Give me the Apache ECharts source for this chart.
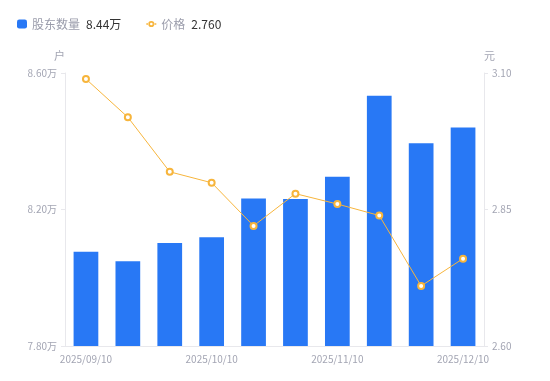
<!DOCTYPE html>
<html>
<head>
<meta charset="utf-8">
<script src="https://cdn.jsdelivr.net/npm/echarts@6/dist/echarts.min.js"></script>
<style>html,body{margin:0;padding:0;background:#fff;}#c{width:550px;height:381px;}</style>
</head>
<body>
<div id="c"></div>
<script>
const categories = ['2025/09/10','2025/09/19','2025/09/30','2025/10/10','2025/10/20','2025/10/31','2025/11/10','2025/11/20','2025/11/28','2025/12/10'];
const holders = [8.076, 8.048, 8.102, 8.119, 8.232, 8.231, 8.296, 8.533, 8.394, 8.440]; // 万户
const prices = [3.089, 3.019, 2.919, 2.899, 2.820, 2.879, 2.860, 2.839, 2.710, 2.760]; // 元
const leftTicks = [7.8, 8.2, 8.6];
const rightTicks = [2.60, 2.85, 3.10];

const labelColor = '#a3a5b3';
const lineColor = '#e8e8ec';
const orange = '#f7b53c';
const chart = echarts.init(document.getElementById('c'));
const lastHolder = holders[holders.length - 1].toFixed(2) + '万';
const lastPrice = prices[prices.length - 1].toFixed(3);
const lineIcon = 'path://M0,0L0.01,0L0.01,0.01Z M10,9L9.99,9L9.99,8.99Z M0,3.8L2.4,3.8L2.4,5.2L0,5.2Z M7.6,3.8L10,3.8L10,5.2L7.6,5.2Z M8.1,4.5A3.1,3.1 0 1 0 1.9,4.5A3.1,3.1 0 1 0 8.1,4.5Z M6.3,4.5A1.3,1.3 0 1 1 3.7,4.5A1.3,1.3 0 1 1 6.3,4.5Z';

chart.setOption({
  animation: false,
  textStyle: { fontFamily: 'Noto Sans CJK SC, Noto Sans, sans-serif' },
  legend: {
    left: 12, top: 13,
    itemWidth: 10, itemHeight: 9, itemGap: 25,
    data: [
      { name: '股东数量', icon: 'roundRect' },
      { name: '价格', icon: lineIcon, itemStyle: { color: orange, borderWidth: 0 } }
    ],
    formatter: function (name) {
      return name === '股东数量' ? '{n|' + name + '}{v|' + lastHolder + '}' : '{n|' + name + '}{v|' + lastPrice + '}';
    },
    textStyle: {
      rich: {
        n: { color: '#9a9cab', fontSize: 12 },
        v: { color: '#333333', fontSize: 12, padding: [0, 0, 0, 6] }
      }
    }
  },
  grid: { left: 65, right: 66, top: 73, bottom: 35, containLabel: false },
  xAxis: {
    type: 'category',
    data: categories,
    axisLine: { lineStyle: { color: lineColor } },
    axisTick: { show: false },
    axisLabel: { color: labelColor, fontSize: 10, interval: 2, margin: 8 }
  },
  yAxis: [
    {
      type: 'value', name: '户', min: leftTicks[0], max: leftTicks[2], interval: 0.4,
      nameGap: 12,
      nameTextStyle: { color: labelColor, fontSize: 11, align: 'right' },
      axisLine: { show: true, lineStyle: { color: lineColor } },
      axisTick: { show: true, length: 4, lineStyle: { color: lineColor } },
      splitLine: { show: false },
      axisLabel: { color: labelColor, fontSize: 10, margin: 8, formatter: v => v.toFixed(2) + '万' }
    },
    {
      type: 'value', name: '元', min: rightTicks[0], max: rightTicks[2], interval: 0.25,
      nameGap: 12,
      nameTextStyle: { color: labelColor, fontSize: 11, align: 'left' },
      axisLine: { show: true, lineStyle: { color: lineColor } },
      axisTick: { show: true, length: 4, lineStyle: { color: lineColor } },
      splitLine: { show: false },
      axisLabel: { color: labelColor, fontSize: 10, margin: 8, formatter: v => v.toFixed(2) }
    }
  ],
  series: [
    {
      name: '股东数量', type: 'bar', yAxisIndex: 0, data: holders,
      barWidth: '59%',
      itemStyle: { color: '#2878f5' }
    },
    {
      name: '价格', type: 'line', yAxisIndex: 1, data: prices,
      symbol: 'emptyCircle', symbolSize: 6,
      lineStyle: { color: orange, width: 1 },
      itemStyle: { color: orange, borderWidth: 2 }
    }
  ]
});
</script>
</body>
</html>
